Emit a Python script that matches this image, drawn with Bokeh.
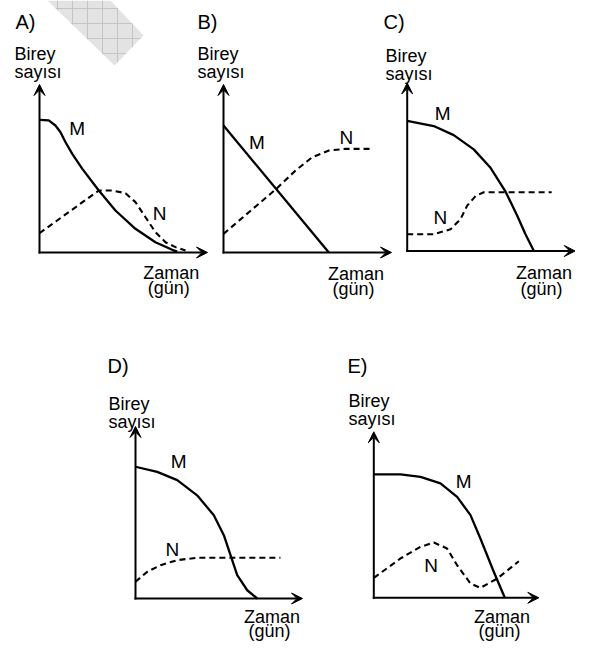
from bokeh.plotting import figure
from bokeh.models import Range1d, Arrow, VeeHead
from bokeh.core.properties import value
from bokeh.embed import file_html
from bokeh.resources import INLINE

# ---------------- data (panel units: x = time, y = number of individuals) ----------------
a_m_t = [0, 0.55, 0.95, 1.25, 1.55, 1.95, 2.55, 3.53, 4.52, 5.71, 6.9, 7.9, 8.2]
a_m_n = [7.9, 7.86, 7.56, 7.16, 6.56, 5.87, 4.98, 3.69, 2.5, 1.41, 0.61, 0.16, 0.05]
a_n_t = [0, 3.53, 4.33, 5.12, 5.71, 6.31, 6.9, 7.5, 8.1, 8.69]
a_n_n = [1.15, 3.69, 3.69, 3.53, 3.0, 2.1, 1.21, 0.61, 0.32, 0.12]

b_m_t = [0, 6.27]
b_m_n = [7.56, 0]
b_n_t = [0, 3.1, 4.29, 5.28, 6.27, 7.26, 8.75]
b_n_n = [1.11, 3.75, 4.88, 5.67, 6.07, 6.17, 6.17]

c_m_t = [0, 1.58, 2.77, 3.96, 4.96, 5.82, 6.55, 7.04, 7.54]
c_m_n = [7.74, 7.44, 6.9, 6.05, 4.95, 3.6, 2.1, 1.0, 0.0]
c_n_t = [0, 1.58, 2.58, 3.17, 3.57, 4.07, 4.56, 8.6]
c_n_n = [1.0, 1.0, 1.29, 1.89, 2.7, 3.27, 3.5, 3.5]

d_m_t = [0, 1.3, 2.5, 3.69, 4.69, 5.29, 5.69, 6.09, 6.69, 7.29]
d_m_n = [7.66, 7.36, 6.88, 6.0, 4.84, 3.68, 2.52, 1.36, 0.48, 0.0]
d_n_t = [0, 0.7, 1.5, 2.5, 3.69, 8.68]
d_n_n = [0.97, 1.55, 1.94, 2.23, 2.37, 2.37]

e_m_t = [0, 1.62, 2.83, 4.04, 5.05, 5.86, 6.46, 7.27, 7.94]
e_m_n = [7.43, 7.43, 7.29, 6.89, 6.08, 4.98, 3.57, 1.57, 0.0]
e_n_t = [0, 1.62, 2.83, 3.64, 4.44, 5.05, 5.86, 6.46, 7.48, 8.79]
e_n_n = [1.2, 2.37, 3.07, 3.33, 2.97, 1.96, 0.86, 0.6, 1.16, 2.2]

panel_letters = ["A)", "B)", "C)", "D)", "E)"]
series_names = ["M", "N"]
y_title = ["Birey", "sayısı"]
x_title = ["Zaman", "(gün)"]

# label anchor points in panel units (M label, N label)
m_label = [(2.24, 7.36), (1.99, 6.57), (2.11, 8.18), (2.59, 7.95), (5.45, 6.99)]
n_label = [(7.15, 2.35), (7.31, 6.86), (1.98, 1.98), (2.2, 2.86), (3.48, 1.96)]

curves = [
    (a_m_t, a_m_n, a_n_t, a_n_n),
    (b_m_t, b_m_n, b_n_t, b_n_n),
    (c_m_t, c_m_n, c_n_t, c_n_n),
    (d_m_t, d_m_n, d_n_t, d_n_n),
    (e_m_t, e_m_n, e_n_t, e_n_n),
]

# ---------------- layout (picture pixels) ----------------
W, H = 575, 641
X0, Y0 = 0, 0
DY = -12  # lower row raised a little so that it fits the page
# origin x, origin y, px per unit x, px per unit y
frames = [
    (39, 252, 16.8, 16.8),
    (223, 252, 16.8, 16.8),
    (406.7, 250.5, 16.8, 16.8),
    (135, 610 + DY, 16.7, 17.2),
    (373.3, 609.3 + DY, 16.5, 16.6),
]
title_pos = [(15, 21), (197, 21), (383, 21), (107, 377 + DY), (347, 377 + DY)]
ylab_pos = [(14, 53.7), (197, 53.7), (385, 55.3), (108, 415.3 + DY), (348, 412 + DY)]
xlab_pos = [(170.8, 272, 287.5), (355.5, 273, 288.5), (543.5, 272.5, 288),
            (271.5, 616.5, 630.5), (501.5, 616.5, 630.5)]
AXIS_LEN = 10.0

FONT = value("Liberation Sans")

p = figure(width=W, height=H, x_range=Range1d(X0, X0 + W), y_range=Range1d(Y0 + H, Y0),
           output_backend="svg", toolbar_location=None, min_border=0, title=None,
           x_axis_location=None, y_axis_location=None)
p.grid.visible = False
p.outline_line_color = None
p.background_fill_color = "white"
p.border_fill_color = "white"

# faint watermark in the upper-left corner
wm = [(47, 0), (110, 0), (143, 35), (114, 65)]
p.patch([q[0] for q in wm], [q[1] for q in wm], fill_color="#e3e3e3", line_color=None)


def clip(c, vertical):
    hits = []
    n = len(wm)
    for i in range(n):
        (x1, y1), (x2, y2) = wm[i], wm[(i + 1) % n]
        a1, a2 = (x1, x2) if vertical else (y1, y2)
        b1, b2 = (y1, y2) if vertical else (x1, x2)
        if a1 != a2 and (a1 - c) * (a2 - c) <= 0:
            hits.append(b1 + (c - a1) * (b2 - b1) / (a2 - a1))
    return (min(hits), max(hits)) if len(hits) >= 2 else None


gx0, gx1, gy0, gy1 = [], [], [], []
for c in range(57, 143, 15):
    r = clip(c + 0.0, True)
    if r:
        gx0.append(c); gx1.append(c); gy0.append(r[0]); gy1.append(r[1])
for c in range(8, 66, 15):
    r = clip(c + 0.0, False)
    if r:
        gx0.append(r[0]); gx1.append(r[1]); gy0.append(c); gy1.append(c)
p.segment(gx0, gy0, gx1, gy1, line_color="#c4c4c4", line_width=1)

for i, (ox, oy, sx, sy) in enumerate(frames):
    name = "panel%d" % i
    p.extra_x_ranges[name] = Range1d((X0 - ox) / sx, (X0 + W - ox) / sx)
    p.extra_y_ranges[name] = Range1d((oy - (Y0 + H)) / sy, (oy - Y0) / sy)
    kw = dict(x_range_name=name, y_range_name=name)

    # axes with arrow heads
    for (xe, ye) in [(0, AXIS_LEN), (AXIS_LEN, 0)]:
        p.add_layout(Arrow(x_start=0, y_start=0, x_end=xe, y_end=ye,
                           line_width=2, line_color="black", line_cap="square",
                           end=VeeHead(size=11, fill_color="black", line_color="black", line_width=1),
                           **kw))

    mt, mn, nt, nn = curves[i]
    p.line(mt, mn, line_color="black", line_width=2.3, line_join="round", **kw)
    p.line(nt, nn, line_color="black", line_width=2.1, line_dash="6 4", **kw)

    p.text(x=[m_label[i][0], n_label[i][0]], y=[m_label[i][1], n_label[i][1]],
           text=series_names, text_font=FONT, text_font_size="19px",
           text_align="center", text_baseline="middle", text_color="black", **kw)

    tx, ty = title_pos[i]
    p.text(x=[tx], y=[ty], text=[panel_letters[i]], text_font=FONT, text_font_size="20px",
           text_align="left", text_baseline="alphabetic", text_color="black")
    yx, yy = ylab_pos[i]
    p.text(x=[yx, yx], y=[yy, yy + 18], text=y_title, text_font=FONT, text_font_size="18px",
           text_align="left", text_baseline="alphabetic", text_color="black")
    xx, xy1, xy2 = xlab_pos[i]
    p.text(x=[xx, xx - 2.5], y=[xy1, xy2], text=x_title, text_font=FONT, text_font_size="18px",
           text_align="center", text_baseline="alphabetic", text_color="black")

open("out.html", "w").write(file_html(p, INLINE))
